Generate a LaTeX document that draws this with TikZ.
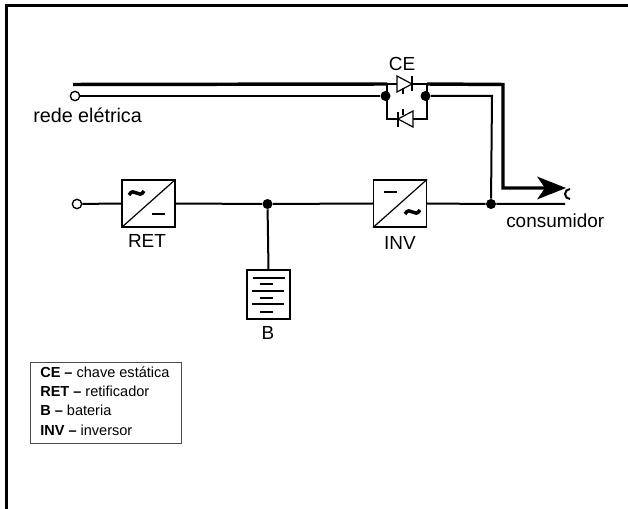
\documentclass[tikz,border=0pt]{standalone}
\usepackage{fontspec}
\setmainfont{Liberation Sans}
\usetikzlibrary{arrows.meta}
\tikzset{
    wire/.style={line width=1.5pt},
    heavy/.style={line width=2.6pt},
    thinline/.style={line width=0.9pt},
    terminal/.style={circle, draw, line width=1pt, fill=white, inner sep=0pt, minimum size=7pt},
    junction/.style={circle, fill=black, inner sep=0pt, minimum size=7.5pt},
    convbox/.style={draw, line width=1.1pt, minimum width=39.5pt, minimum height=35pt, inner sep=0pt},
    label/.style={font=\fontsize{14.2pt}{16pt}\selectfont, inner sep=0pt},
    legend/.style={anchor=base west, inner sep=0pt, font=\fontsize{10.9pt}{12pt}\selectfont}
}
\begin{document}
\begin{tikzpicture}[x=0.75pt, y=-0.75pt]
    \useasboundingbox (0,0) rectangle (628,509);
    % frame
    \draw[line width=2.2pt] (6.5,509) -- (6.5,5.5) -- (628,5.5);

    % nodes of the two lines
    \coordinate (heavyin) at (73,84.5);
    \coordinate (heavybend) at (503,84.5);
    \coordinate (heavylow) at (503,188);
    \coordinate (heavytip) at (548,188);
    \coordinate (topleft) at (387,84);
    \coordinate (topright) at (427,84);
    \coordinate (lowleft) at (387,119);
    \coordinate (lowright) at (427,119);
    \coordinate (d1in) at (397,84);
    \coordinate (d1out) at (412,84);
    \coordinate (d2in) at (413,119);
    \coordinate (d2out) at (398,119);
    \coordinate (thinbend) at (492,96);
    \coordinate (outend) at (565,204);
    \node[terminal] (termgrid) at (75,96) {};
    \node[terminal] (termret) at (77,204) {};
    \node[junction] (jceleft) at (385.5,96) {};
    \node[junction] (jceright) at (425.5,96) {};
    \node[junction] (jbat) at (267.5,204) {};
    \node[junction] (jout) at (491,204) {};
    \node[convbox] (ret) at (148.5,203.5) {};
    \node[convbox] (inv) at (400,203.5) {};
    \node[draw, line width=1.1pt, minimum width=32pt, minimum height=36.5pt, inner sep=0pt] (bat) at (268.5,294.5) {};

    % lines
    \draw[wire] (termgrid) -- (jceleft);
    \draw[heavy] (heavyin) -- (topleft);
    \draw[wire] (jceright) -- (thinbend) -- (jout);
    \draw[wire] (termret) -- (ret.west);
    \draw[wire] (ret.east) -- (jbat) -- (inv.west);
    \draw[wire] (inv.east) -- (jout) -- (outend);
    \draw[wire] (jbat) -- (bat.north);
    \draw[heavy] (topright) -- (heavybend) -- (heavylow) -- (heavytip);
    \fill[black] (566,188) -- (537,176.5) -- (545,188) -- (537,199.5) -- cycle;
    \draw[wire] (570,199) arc (90:270:5);

    % CE
    \draw[thinline] (topleft) -- (d1in);
    \draw[thinline] (d1out) -- (topright);
    \draw[thinline] (topleft) -- (lowleft) -- (d2out);
    \draw[thinline] (d2in) -- (lowright) -- (topright);
    \draw[thinline] (d1in) ++(0,-8) -- ++(0,16) -- (d1out) -- cycle;
    \draw[wire] (412,76) -- (412,91);
    \draw[wire] (403,88) -- (403,94);
    \draw[thinline] (d2in) ++(0,-8) -- ++(0,16) -- (d2out) -- cycle;
    \draw[wire] (398,112) -- (398,127);
    \draw[wire] (403,109) -- (403,115);

    % symbols in the boxes
    \draw[thinline] (ret.south west) -- (ret.north east);
    \draw[thinline] (inv.south west) -- (inv.north east);
    \draw[line width=2.6pt] (129,195) .. controls (134,186) and (139,200) .. (144,191);
    \draw[wire] (152,214) -- (165,214);
    \draw[wire] (384,192) -- (397,192);
    \draw[line width=2.6pt] (405,214) .. controls (410,205) and (415,219) .. (420,210);
    \draw[wire] (253,278) -- (285,278);
    \draw[wire] (260,284) -- (273,284);
    \draw[wire] (252,291) -- (284,291);
    \draw[wire] (260,298) -- (273,298);
    \draw[wire] (252,304) -- (284,304);
    \draw[wire] (260,312) -- (273,312);

    % labels
    \node[label] (lce) at (402,64) {CE};
    \node[label, anchor=west, font=\fontsize{14.8pt}{16pt}\selectfont] (lgrid) at (33,115) {rede elétrica};
    \node[label, anchor=west] (lout) at (506,221) {consumidor};
    \node[label] (lret) at (147,241) {RET};
    \node[label] (linv) at (400,243) {INV};
    \node[label] (lb) at (268,333) {B};

    % legend
    \draw[line width=0.6pt, black!70] (30,362) rectangle (181,443);
    \node[legend] (l1) at (40,378) {\textbf{CE –} chave estática};
    \node[legend] (l2) at (40,397) {\textbf{RET –} retificador};
    \node[legend] (l3) at (40,415) {\textbf{B –} bateria};
    \node[legend] (l4) at (40,435) {\textbf{INV –} inversor};
\end{tikzpicture}
\end{document}
